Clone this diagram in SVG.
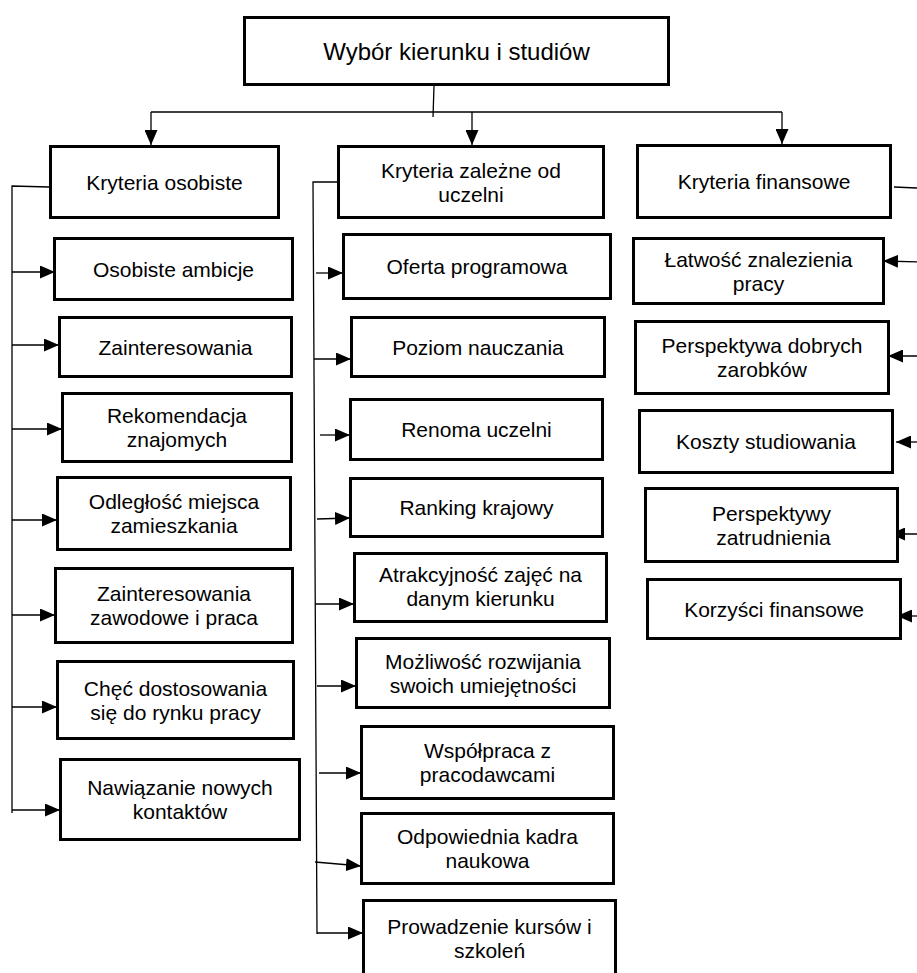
<svg xmlns="http://www.w3.org/2000/svg" width="917" height="973" viewBox="0 0 917 973">
<style>
.box{fill:#fff;stroke:#000;stroke-width:3}
.t{font-family:"Liberation Sans",Arial,sans-serif;font-size:21px;fill:#000;text-anchor:middle}
.big{font-size:24px}
.c{fill:none;stroke:#000;stroke-width:1.3}
.a{fill:none;stroke:#000;stroke-width:1.3;marker-end:url(#ah)}
</style>
<defs>
<marker id="ah" markerUnits="userSpaceOnUse" markerWidth="15" markerHeight="13" refX="15" refY="6.5" orient="auto">
<path d="M0,0 L15,6.5 L0,13 z" fill="#000"/>
</marker>
</defs>
<rect width="917" height="973" fill="#fff"/>
<g id="connectors">
<path class="c" d="M434,86 L433,117"/>
<path class="c" d="M151,112 L782,112"/>
<path class="a" d="M151,112 L151,145"/>
<path class="a" d="M472,112 L472,145"/>
<path class="a" d="M782,112 L782,144"/>
<path class="c" d="M49,187 L12,186 L12,813"/>
<path class="a" d="M12,272 L55,272"/>
<path class="a" d="M12,345 L59,345"/>
<path class="a" d="M12,429 L62,429"/>
<path class="a" d="M12,520 L57,520"/>
<path class="a" d="M12,615 L55,615"/>
<path class="a" d="M12,707 L57,707"/>
<path class="a" d="M12,810 L60,810"/>
<path class="c" d="M342,182 L313,182 L317,934"/>
<path class="a" d="M316,273 L343,273"/>
<path class="a" d="M314,359 L351,359"/>
<path class="a" d="M320,435 L350,435"/>
<path class="a" d="M317,519 L350,518"/>
<path class="a" d="M315,604 L354,604"/>
<path class="a" d="M317,686 L356,686"/>
<path class="a" d="M319,773 L361,773"/>
<path class="a" d="M315,862 L361,866"/>
<path class="a" d="M317,933 L363,933"/>
<path class="c" d="M894,187 L917,188"/>
<path class="a" d="M925,262 L883,261"/>
<path class="a" d="M925,356 L888,356"/>
<path class="a" d="M925,442 L896,442"/>
<path class="a" d="M925,534 L890,534"/>
<path class="a" d="M925,616 L897,616"/>
</g>
<g id="root"><rect class="box" x="244.5" y="17.5" width="424" height="67"/><text class="t big" x="456.5" y="60">Wybór kierunku i studiów</text></g>
<g id="L0"><rect class="box" x="50.5" y="146.5" width="228" height="71"/><text class="t" x="164.5" y="189.5">Kryteria osobiste</text></g>
<g id="L1"><rect class="box" x="54.5" y="238.5" width="238" height="61"/><text class="t" x="173.5" y="276.5">Osobiste ambicje</text></g>
<g id="L2"><rect class="box" x="59.5" y="317.5" width="232" height="59"/><text class="t" x="175.5" y="354.5">Zainteresowania</text></g>
<g id="L3"><rect class="box" x="62.5" y="393.5" width="229" height="68"/><text class="t" x="177" y="423">Rekomendacja</text><text class="t" x="177" y="447">znajomych</text></g>
<g id="L4"><rect class="box" x="57.5" y="477.5" width="233" height="72"/><text class="t" x="174" y="509">Odległość miejsca</text><text class="t" x="174" y="533">zamieszkania</text></g>
<g id="L5"><rect class="box" x="55.5" y="568.5" width="237" height="74"/><text class="t" x="174" y="601">Zainteresowania</text><text class="t" x="174" y="625">zawodowe i praca</text></g>
<g id="L6"><rect class="box" x="57.5" y="661.5" width="236" height="77"/><text class="t" x="175.5" y="695.5">Chęć dostosowania</text><text class="t" x="175.5" y="719.5">się do rynku pracy</text></g>
<g id="L7"><rect class="box" x="60.5" y="759.5" width="239" height="80"/><text class="t" x="180" y="795">Nawiązanie nowych</text><text class="t" x="180" y="819">kontaktów</text></g>
<g id="M0"><rect class="box" x="338.5" y="146.5" width="265" height="71"/><text class="t" x="471" y="177.5">Kryteria zależne od</text><text class="t" x="471" y="201.5">uczelni</text></g>
<g id="M1"><rect class="box" x="343.5" y="234.5" width="267" height="64"/><text class="t" x="477" y="274">Oferta programowa</text></g>
<g id="M2"><rect class="box" x="351.5" y="317.5" width="253" height="59"/><text class="t" x="478" y="354.5">Poziom nauczania</text></g>
<g id="M3"><rect class="box" x="350.5" y="399.5" width="252" height="60"/><text class="t" x="476.5" y="437">Renoma uczelni</text></g>
<g id="M4"><rect class="box" x="350.5" y="478.5" width="252" height="58"/><text class="t" x="476.5" y="515">Ranking krajowy</text></g>
<g id="M5"><rect class="box" x="354.5" y="553.5" width="252" height="68"/><text class="t" x="480.5" y="582">Atrakcyjność zajęć na</text><text class="t" x="480.5" y="606">danym kierunku</text></g>
<g id="M6"><rect class="box" x="356.5" y="638.5" width="253" height="69"/><text class="t" x="483" y="668.5">Możliwość rozwijania</text><text class="t" x="483" y="692.5">swoich umiejętności</text></g>
<g id="M7"><rect class="box" x="361.5" y="726.5" width="252" height="72"/><text class="t" x="487.5" y="758">Współpraca z</text><text class="t" x="487.5" y="782">pracodawcami</text></g>
<g id="M8"><rect class="box" x="361.5" y="813.5" width="252" height="70"/><text class="t" x="487.5" y="844">Odpowiednia kadra</text><text class="t" x="487.5" y="868">naukowa</text></g>
<g id="M9"><rect class="box" x="363.5" y="900.5" width="252" height="80"/><text class="t" x="489.5" y="934">Prowadzenie kursów i</text><text class="t" x="489.5" y="958">szkoleń</text></g>
<g id="R0"><rect class="box" x="637.5" y="145.5" width="253" height="72"/><text class="t" x="764" y="189">Kryteria finansowe</text></g>
<g id="R1"><rect class="box" x="633.5" y="238.5" width="250" height="65"/><text class="t" x="758.5" y="266.5">Łatwość znalezienia</text><text class="t" x="758.5" y="290.5">pracy</text></g>
<g id="R2"><rect class="box" x="635.5" y="321.5" width="253" height="72"/><text class="t" x="762" y="353">Perspektywa dobrych</text><text class="t" x="762" y="377">zarobków</text></g>
<g id="R3"><rect class="box" x="639.5" y="410.5" width="253" height="62"/><text class="t" x="766" y="449">Koszty studiowania</text></g>
<g id="R4"><rect class="box" x="645.5" y="488.5" width="252" height="73"/><text class="t" x="771.5" y="520.5">Perspektywy</text><text class="t" x="773.5" y="544.5">zatrudnienia</text></g>
<g id="R5"><rect class="box" x="647.5" y="579.5" width="253" height="59"/><text class="t" x="774" y="616.5">Korzyści finansowe</text></g>
</svg>
